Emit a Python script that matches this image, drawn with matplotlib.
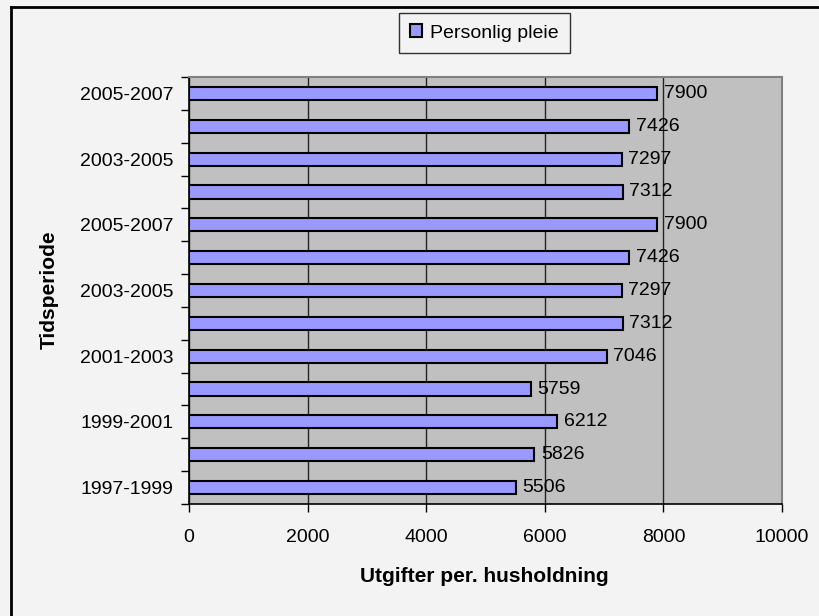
import matplotlib
matplotlib.use("Agg")
import matplotlib.pyplot as plt
import numpy as np
from matplotlib.lines import Line2D

plt.rcParams['font.family'] = ['Liberation Sans', 'DejaVu Sans']

# Periods from bottom to top (only every other one is labelled on the axis)
periods = ['1997-1999', '', '1999-2001', '', '2001-2003', '', '2003-2005',
           '', '2005-2007', '', '2003-2005', '', '2005-2007']
values = [5506, 5826, 6212, 5759, 7046, 7312, 7297, 7426, 7900, 7312, 7297, 7426, 7900]
series_name = 'Personlig pleie'
x_ticks = [0, 2000, 4000, 6000, 8000, 10000]

W, H = 820, 616
FS = 14
fig = plt.figure(figsize=(W / 100, H / 100), dpi=100)
fig.patch.set_facecolor('#f3f3f3')

# chart-area frame (top and left edges visible)
fx, fy = 11 / W, 1 - 7 / H
fig.add_artist(Line2D([fx, fx], [0, fy], transform=fig.transFigure, color='black', linewidth=2))
fig.add_artist(Line2D([fx, 1], [fy, fy], transform=fig.transFigure, color='black', linewidth=2))

left, right, top, bottom = 189 / W, 782 / W, 1 - 77 / H, 1 - 504 / H
ax = fig.add_axes([left, bottom, right - left, top - bottom])
ax.set_facecolor('#c0c0c0')

n = len(values)
y = np.arange(n)
bars = ax.barh(y, values, height=0.4, color='#9999ff', edgecolor='black',
               linewidth=1.5, label=series_name, zorder=3)

for yi, v in zip(y, values):
    ax.text(v + 110, yi, f'{v}', va='center', ha='left', fontsize=FS, zorder=4)

ax.set_xlim(0, 10000)
ax.set_ylim(-0.5, n - 0.5)
ax.set_xticks(x_ticks)
ax.set_xticklabels([str(t) for t in x_ticks], fontsize=FS)
ax.tick_params(axis='x', length=6, width=1, pad=12)

# category labels centred on bars, tick marks on category boundaries
ax.set_yticks(y)
ax.set_yticklabels(periods, fontsize=FS)
ax.tick_params(axis='y', length=0, pad=11)
ax.set_yticks(np.arange(n + 1) - 0.5, minor=True)
ax.tick_params(axis='y', which='minor', length=6, width=1)

ax.grid(axis='x', color='#222222', linewidth=1, zorder=1)
for side in ['left', 'bottom']:
    ax.spines[side].set_color('black')
    ax.spines[side].set_linewidth(1.2)
for side in ['top', 'right']:
    ax.spines[side].set_color('#808080')
    ax.spines[side].set_linewidth(1.5)

fig.text(49 / W, 1 - 290 / H, 'Tidsperiode', rotation=90, ha='center', va='center',
         fontsize=15, fontweight='bold')
fig.text(484 / W, 1 - 577 / H, 'Utgifter per. husholdning', ha='center', va='center',
         fontsize=15, fontweight='bold')

leg = fig.legend(handles=[bars], labels=[series_name], loc='center',
                 bbox_to_anchor=(484.5 / W, 1 - 33 / H), frameon=True, fancybox=False,
                 fontsize=FS, handlelength=0.6, handleheight=0.6, handletextpad=0.4,
                 borderpad=0.6)
leg.get_frame().set_edgecolor('black')
leg.get_frame().set_facecolor('#f3f3f3')
leg.get_frame().set_linewidth(1)

fig.savefig('out.png', dpi=100, facecolor=fig.get_facecolor())
